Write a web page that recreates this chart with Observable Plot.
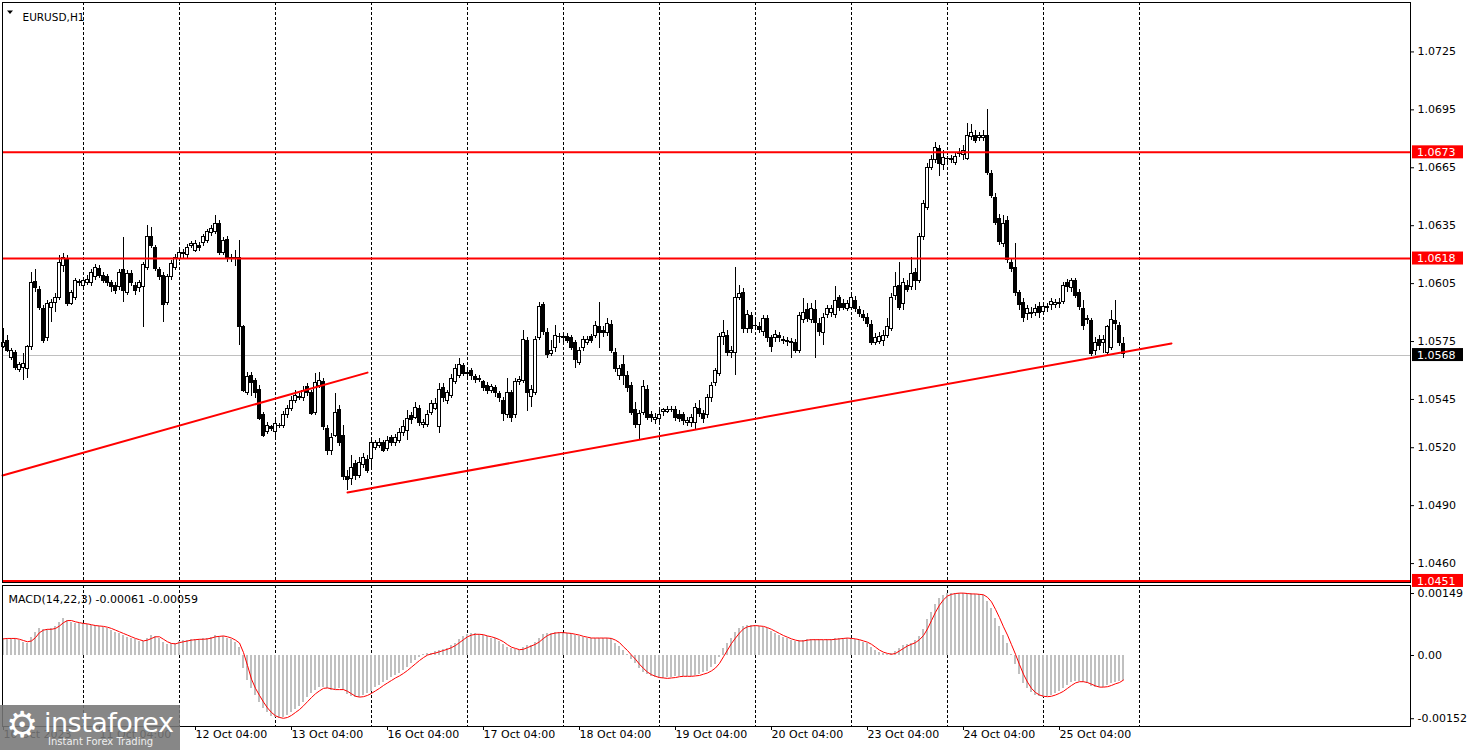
<!DOCTYPE html>
<html><head><meta charset="utf-8">
<script src="https://cdn.jsdelivr.net/npm/d3@7"></script>
<script src="https://cdn.jsdelivr.net/npm/@observablehq/plot@0.6"></script>
<style>
html,body{margin:0;padding:0;background:#fff;}
#chart{position:relative;width:1468px;height:750px;overflow:hidden;background:#fff;font-family:"DejaVu Sans",sans-serif;}
#chart svg{position:absolute;left:0;overflow:visible;}
#logo{position:absolute;left:0;top:705px;width:180px;height:45px;background:rgba(118,118,118,0.88);color:#fff;z-index:5;}
#logo .gear{position:absolute;left:6px;top:0px;font-size:36px;line-height:40px;color:#fff;}
#logo .name{position:absolute;left:44px;top:2px;font-size:27px;line-height:32px;letter-spacing:-0.5px;color:#fff;}
#logo .sub{position:absolute;left:48px;top:31px;font-size:10px;line-height:12px;color:#eee;}
</style></head>
<body><div id="chart"><div id="logo"><span class="gear">⚙</span><span class="name">instaforex</span><span class="sub">Instant Forex Trading</span></div></div>
<script>
// ---------- DATA (EURUSD, H1) ----------
const opens = [
1.05724,1.05755,1.05667,1.05693,1.05605,1.05615,1.05610,1.05724,1.06056,1.06019,
1.05921,1.05766,1.05926,1.05952,1.05973,1.06139,1.06175,1.05947,1.05978,1.06051,
1.06040,1.06051,1.06051,1.06082,1.06128,1.06092,1.06082,1.06051,1.06040,1.06030,
1.06123,1.06004,1.06102,1.06040,1.06025,1.06030,1.06133,1.06294,1.06237,1.06118,
1.06092,1.05952,1.06082,1.06133,1.06180,1.06201,1.06196,1.06247,1.06221,1.06247,
1.06258,1.06273,1.06310,1.06315,1.06361,1.06211,1.06278,1.06180,1.06185,1.06185,
1.05823,1.05486,1.05574,1.05548,1.05501,1.05367,1.05279,1.05305,1.05279,1.05315,
1.05315,1.05367,1.05403,1.05444,1.05460,1.05455,1.05512,1.05486,1.05382,1.05522,
1.05538,1.05299,1.05185,1.05263,1.05393,1.05263,1.05051,1.05040,1.05118,1.05056,
1.05108,1.05134,1.05144,1.05201,1.05211,1.05222,1.05196,1.05248,1.05227,1.05237,
1.05274,1.05289,1.05362,1.05356,1.05403,1.05320,1.05320,1.05382,1.05403,1.05305,
1.05507,1.05444,1.05470,1.05538,1.05574,1.05621,1.05589,1.05595,1.05564,1.05558,
1.05538,1.05522,1.05496,1.05507,1.05476,1.05444,1.05367,1.05481,1.05367,1.05538,
1.05548,1.05755,1.05465,1.05486,1.05766,1.05937,1.05792,1.05688,1.05714,1.05771,
1.05766,1.05771,1.05766,1.05740,1.05641,1.05714,1.05745,1.05771,1.05781,1.05823,
1.05807,1.05792,1.05838,1.05693,1.05569,1.05626,1.05574,1.05522,1.05393,1.05320,
1.05382,1.05501,1.05372,1.05346,1.05351,1.05387,1.05387,1.05393,1.05393,1.05372,
1.05367,1.05330,1.05330,1.05330,1.05403,1.05377,1.05367,1.05455,1.05533,1.05584,
1.05771,1.05781,1.05693,1.05693,1.05973,1.06004,1.05817,1.05880,1.05828,1.05823,
1.05797,1.05869,1.05766,1.05766,1.05781,1.05755,1.05750,1.05740,1.05745,1.05703,
1.05859,1.05911,1.05859,1.05911,1.05843,1.05792,1.05890,1.05900,1.05885,1.05973,
1.05947,1.05921,1.05926,1.05962,1.05911,1.05890,1.05874,1.05838,1.05745,1.05750,
1.05755,1.05781,1.05817,1.05988,1.06040,1.05947,1.06040,1.06030,1.06107,1.06066,
1.06289,1.06444,1.06651,1.06688,1.06745,1.06662,1.06693,1.06688,1.06677,1.06719,
1.06714,1.06698,1.06807,1.06817,1.06802,1.06802,1.06812,1.06620,1.06496,1.06387,
1.06253,1.06372,1.06159,1.06133,1.05999,1.05952,1.05895,1.05895,1.05900,1.05931,
1.05905,1.05926,1.05937,1.05937,1.05942,1.05957,1.06051,1.06025,1.06066,1.06004,
1.05921,1.05869,1.05854,1.05703,1.05760,1.05740,1.05693,1.05719,1.05854,1.05833,
1.05735];
const highs = [
1.05817,1.05781,1.05714,1.05703,1.05641,1.05688,1.05729,1.06107,1.06123,1.06035,
1.05937,1.05962,1.05968,1.05999,1.06196,1.06206,1.06196,1.06014,1.06076,1.06071,
1.06082,1.06092,1.06123,1.06149,1.06144,1.06107,1.06097,1.06066,1.06056,1.06123,
1.06289,1.06118,1.06118,1.06056,1.06066,1.06159,1.06351,1.06341,1.06247,1.06133,
1.06107,1.06097,1.06170,1.06201,1.06232,1.06227,1.06253,1.06268,1.06273,1.06263,
1.06304,1.06330,1.06351,1.06403,1.06377,1.06289,1.06294,1.06201,1.06221,1.06273,
1.05833,1.05589,1.05589,1.05558,1.05522,1.05382,1.05330,1.05315,1.05341,1.05325,
1.05387,1.05419,1.05465,1.05496,1.05481,1.05517,1.05533,1.05496,1.05584,1.05589,
1.05558,1.05315,1.05274,1.05481,1.05419,1.05315,1.05082,1.05160,1.05134,1.05149,
1.05170,1.05160,1.05237,1.05237,1.05248,1.05237,1.05258,1.05263,1.05268,1.05299,
1.05341,1.05393,1.05382,1.05434,1.05419,1.05346,1.05393,1.05444,1.05455,1.05533,
1.05533,1.05496,1.05579,1.05631,1.05662,1.05636,1.05610,1.05610,1.05579,1.05574,
1.05548,1.05538,1.05527,1.05522,1.05491,1.05460,1.05558,1.05496,1.05558,1.05569,
1.05807,1.05771,1.05522,1.05776,1.05952,1.05952,1.05817,1.05755,1.05833,1.05792,
1.05786,1.05792,1.05781,1.05755,1.05719,1.05776,1.05776,1.05786,1.05854,1.05952,
1.05828,1.05869,1.05859,1.05714,1.05626,1.05678,1.05595,1.05538,1.05434,1.05393,
1.05548,1.05522,1.05387,1.05377,1.05393,1.05403,1.05413,1.05413,1.05413,1.05393,
1.05382,1.05356,1.05372,1.05429,1.05444,1.05393,1.05476,1.05538,1.05610,1.05792,
1.05859,1.05807,1.05724,1.06133,1.06040,1.06025,1.05911,1.05900,1.05859,1.05848,
1.05885,1.05885,1.05781,1.05807,1.05797,1.05776,1.05771,1.05766,1.05760,1.05900,
1.05973,1.05947,1.05947,1.05962,1.05869,1.05895,1.05937,1.05937,1.06035,1.05988,
1.05968,1.05962,1.05994,1.05983,1.05931,1.05911,1.05895,1.05859,1.05792,1.05797,
1.05807,1.05869,1.05999,1.06107,1.06159,1.06076,1.06066,1.06185,1.06128,1.06310,
1.06480,1.06672,1.06714,1.06781,1.06765,1.06739,1.06709,1.06714,1.06724,1.06750,
1.06765,1.06879,1.06874,1.06843,1.06833,1.06843,1.06952,1.06636,1.06517,1.06408,
1.06403,1.06398,1.06175,1.06258,1.06014,1.05973,1.05937,1.05926,1.05942,1.05952,
1.05947,1.05947,1.05973,1.05968,1.05973,1.06056,1.06071,1.06076,1.06076,1.06019,
1.05962,1.05885,1.05869,1.05771,1.05781,1.05781,1.05833,1.05911,1.05962,1.05848,
1.05771];
const lows = [
1.05714,1.05693,1.05652,1.05600,1.05589,1.05548,1.05558,1.05703,1.06004,1.05911,
1.05740,1.05750,1.05848,1.05900,1.05962,1.06107,1.05931,1.05937,1.05962,1.06035,
1.06030,1.06040,1.06035,1.06066,1.06076,1.06051,1.06035,1.06004,1.05994,1.06014,
1.05952,1.05988,1.06035,1.05988,1.06004,1.05823,1.06118,1.06232,1.06113,1.06066,
1.05848,1.05937,1.06066,1.06118,1.06164,1.06180,1.06180,1.06232,1.06211,1.06216,
1.06242,1.06258,1.06294,1.06304,1.06196,1.06196,1.06159,1.06159,1.06139,1.05729,
1.05486,1.05470,1.05465,1.05455,1.05341,1.05253,1.05268,1.05284,1.05253,1.05299,
1.05299,1.05351,1.05387,1.05429,1.05444,1.05439,1.05465,1.05367,1.05367,1.05507,
1.05289,1.05160,1.05160,1.05253,1.05206,1.05030,1.04978,1.05004,1.05030,1.05040,
1.05092,1.05066,1.05082,1.05185,1.05196,1.05175,1.05180,1.05206,1.05206,1.05222,
1.05258,1.05237,1.05320,1.05346,1.05310,1.05299,1.05305,1.05367,1.05393,1.05274,
1.05434,1.05424,1.05455,1.05527,1.05558,1.05569,1.05564,1.05548,1.05533,1.05538,
1.05491,1.05476,1.05481,1.05460,1.05434,1.05336,1.05351,1.05330,1.05351,1.05522,
1.05533,1.05387,1.05408,1.05470,1.05755,1.05781,1.05662,1.05672,1.05693,1.05740,
1.05735,1.05740,1.05703,1.05610,1.05626,1.05698,1.05729,1.05740,1.05766,1.05714,
1.05771,1.05776,1.05688,1.05589,1.05548,1.05522,1.05486,1.05367,1.05299,1.05242,
1.05367,1.05341,1.05330,1.05320,1.05325,1.05362,1.05377,1.05382,1.05336,1.05330,
1.05315,1.05310,1.05305,1.05289,1.05356,1.05325,1.05351,1.05434,1.05517,1.05569,
1.05729,1.05672,1.05662,1.05574,1.05962,1.05792,1.05792,1.05792,1.05807,1.05792,
1.05776,1.05745,1.05693,1.05745,1.05745,1.05735,1.05724,1.05662,1.05688,1.05688,
1.05843,1.05848,1.05843,1.05662,1.05776,1.05729,1.05869,1.05874,1.05869,1.05905,
1.05911,1.05905,1.05911,1.05900,1.05874,1.05854,1.05823,1.05729,1.05729,1.05735,
1.05724,1.05766,1.05802,1.05962,1.05911,1.05911,1.06004,1.06014,1.06014,1.06051,
1.06273,1.06429,1.06636,1.06672,1.06605,1.06636,1.06672,1.06672,1.06662,1.06703,
1.06688,1.06688,1.06791,1.06776,1.06786,1.06786,1.06610,1.06491,1.06351,1.06247,
1.06237,1.06154,1.06107,1.05983,1.05911,1.05848,1.05859,1.05869,1.05880,1.05869,
1.05885,1.05900,1.05911,1.05921,1.05921,1.05942,1.06004,1.06004,1.05973,1.05911,
1.05807,1.05838,1.05672,1.05678,1.05703,1.05688,1.05678,1.05703,1.05807,1.05724,
1.05662];
const closes = [
1.05740,1.05703,1.05703,1.05615,1.05626,1.05636,1.05724,1.06051,1.06025,1.05926,
1.05755,1.05947,1.05952,1.05978,1.06159,1.06185,1.05947,1.05999,1.06061,1.06056,
1.06066,1.06071,1.06107,1.06133,1.06092,1.06066,1.06051,1.06030,1.06014,1.06107,
1.06014,1.06102,1.06051,1.06014,1.06051,1.06144,1.06289,1.06247,1.06128,1.06082,
1.05937,1.06082,1.06154,1.06185,1.06211,1.06206,1.06237,1.06253,1.06253,1.06232,
1.06289,1.06315,1.06335,1.06361,1.06211,1.06273,1.06185,1.06185,1.06180,1.05823,
1.05496,1.05564,1.05533,1.05481,1.05351,1.05263,1.05315,1.05299,1.05325,1.05310,
1.05367,1.05403,1.05444,1.05470,1.05465,1.05496,1.05486,1.05377,1.05533,1.05548,
1.05305,1.05185,1.05253,1.05382,1.05222,1.05046,1.05035,1.05097,1.05056,1.05123,
1.05149,1.05082,1.05222,1.05222,1.05227,1.05185,1.05237,1.05222,1.05253,1.05274,
1.05305,1.05351,1.05346,1.05408,1.05330,1.05330,1.05372,1.05424,1.05429,1.05501,
1.05455,1.05481,1.05558,1.05610,1.05631,1.05584,1.05584,1.05569,1.05553,1.05553,
1.05507,1.05496,1.05512,1.05481,1.05455,1.05377,1.05486,1.05356,1.05543,1.05553,
1.05760,1.05481,1.05501,1.05760,1.05931,1.05797,1.05678,1.05703,1.05781,1.05776,
1.05771,1.05755,1.05719,1.05652,1.05703,1.05760,1.05760,1.05755,1.05828,1.05792,
1.05792,1.05843,1.05703,1.05610,1.05610,1.05574,1.05507,1.05382,1.05320,1.05377,
1.05512,1.05356,1.05356,1.05356,1.05372,1.05393,1.05393,1.05398,1.05356,1.05351,
1.05341,1.05341,1.05356,1.05408,1.05377,1.05351,1.05455,1.05522,1.05595,1.05771,
1.05792,1.05693,1.05703,1.05973,1.05994,1.05817,1.05890,1.05817,1.05833,1.05812,
1.05869,1.05766,1.05724,1.05786,1.05766,1.05760,1.05755,1.05750,1.05703,1.05880,
1.05900,1.05869,1.05921,1.05848,1.05797,1.05874,1.05921,1.05916,1.05962,1.05926,
1.05926,1.05942,1.05973,1.05921,1.05895,1.05874,1.05843,1.05740,1.05766,1.05771,
1.05781,1.05823,1.05978,1.06030,1.05926,1.06051,1.06019,1.06102,1.06066,1.06289,
1.06460,1.06651,1.06688,1.06750,1.06672,1.06703,1.06698,1.06698,1.06708,1.06729,
1.06739,1.06817,1.06828,1.06791,1.06812,1.06817,1.06625,1.06506,1.06366,1.06263,
1.06361,1.06170,1.06128,1.05999,1.05937,1.05874,1.05916,1.05900,1.05921,1.05900,
1.05931,1.05931,1.05957,1.05952,1.05952,1.06040,1.06030,1.06066,1.05988,1.05931,
1.05833,1.05859,1.05688,1.05745,1.05729,1.05760,1.05823,1.05859,1.05843,1.05745,
1.05683];
// MACD(14,22,3), values in units of 0.00001
const macdMainE5 = [
40,42,42,40,36,32,30,44,56,64, 62,62,64,70,80,88,84,80,78,78,
76,74,72,71,70,68,66,60,56,54, 48,44,42,38,34,34,42,48,46,40,
32,26,28,30,34,36,36,38,39,39, 40,42,44,48,46,46,42,38,32,20,
-32,-60,-80,-96,-112,-128,-138,-146,-150,-152, -150,-144,-138,-130,-122,-112,-100,-92,-84,-78,
-76,-80,-84,-82,-80,-84,-94,-98,-102,-100, -96,-92,-86,-78,-72,-66,-60,-54,-48,-44,
-36,-28,-20,-12,-4,2,4,6,9,12, 15,18,24,30,38,46,50,52,52,50,
47,45,42,40,33,26,20,16,14,12, 20,24,25,32,42,50,53,54,55,55,
54,54,52,48,46,43,42,42,42,42, 42,41,40,30,22,12,2,-10,-20,-32,
-42,-46,-50,-53,-55,-55,-54,-53,-51,-50, -50,-50,-50,-48,-46,-42,-38,-30,-22,-6,
18,28,42,55,66,70,72,72,71,70, 68,64,58,52,48,44,40,37,34,35,
37,38,38,38,38,37,38,38,40,42, 42,41,40,38,36,32,28,20,12,8,
4,2,4,10,18,24,27,30,36,45, 62,86,104,122,136,144,148,150,150,150,
149,148,148,147,146,144,130,112,90,70, 48,28,2,-22,-45,-68,-80,-90,-96,-98,
-100,-98,-96,-92,-86,-80,-72,-65,-62,-62, -65,-68,-74,-76,-77,-76,-72,-68,-64,-62,
-61];
const macdSignalE5 = [
40,41,41,41,39,36,33,35,43,55, 61,63,63,65,71,79,84,84,81,79,
77,76,74,72,71,70,68,65,61,57, 53,49,45,41,38,35,37,41,45,45,
39,33,29,28,31,33,35,37,38,39, 39,40,42,45,46,47,45,42,37,30,
7,-24,-57,-79,-96,-112,-126,-137,-145,-149, -151,-149,-144,-137,-130,-121,-111,-101,-92,-85,
-79,-78,-80,-82,-82,-82,-86,-92,-98,-100, -99,-96,-91,-85,-79,-72,-66,-60,-54,-49,
-43,-36,-28,-20,-12,-5,1,4,6,9, 12,15,19,24,31,38,45,49,51,51,
50,47,45,42,38,33,26,20,17,14, 15,19,23,27,33,41,48,52,54,55,
55,54,53,51,49,46,44,42,42,42, 42,42,41,37,31,21,12,1,-9,-21,
-31,-40,-46,-50,-53,-54,-55,-54,-53,-51, -50,-50,-50,-49,-48,-45,-42,-37,-30,-19,
-3,13,29,42,54,64,69,71,72,71, 70,67,63,58,53,48,44,40,37,35,
35,37,38,38,38,38,38,38,39,40, 41,42,41,40,38,35,32,27,20,13,
8,5,3,5,11,17,23,27,31,38, 48,64,84,104,121,134,143,147,149,150,
150,149,148,148,147,146,140,129,111,91, 69,49,26,3,-22,-45,-64,-79,-89,-95,
-98,-99,-98,-95,-91,-86,-79,-72,-66,-63, -63,-65,-69,-73,-76,-76,-75,-72,-68,-65,
-59];
const priceTicks = [1.0725, 1.0695, 1.0665, 1.0635, 1.0605, 1.0575, 1.0545, 1.0520, 1.0490, 1.0460];
const levelPrices = [1.0673, 1.0618, 1.0451];
const lastPrice = 1.0568;
const macdTicks = [0.00149, 0, -0.00152];
const macdTickLabels = ["0.00149", "0.00", "-0.00152"];
const timeTickBars = [0, 24, 48, 72, 96, 120, 144, 168, 192, 216, 240, 264];
const timeTickLabels = ["10 Oct 2023", "11 Oct 04:00", "12 Oct 04:00", "13 Oct 04:00", "16 Oct 04:00", "17 Oct 04:00",
  "18 Oct 04:00", "19 Oct 04:00", "20 Oct 04:00", "23 Oct 04:00", "24 Oct 04:00", "25 Oct 04:00"];
const gridBars = [20, 44, 68, 92, 116, 140, 164, 188, 212, 236, 260, 284];
const trend1Bars = [-0.25, 91], trend1Prices = [1.05056, 1.05589];
const trend2Bars = [86, 292], trend2Prices = [1.04968, 1.05740];
const symbolTitle = "EURUSD,H1";
const macdTitle = "MACD(14,22,3) -0.00061 -0.00059";

// ---------- BUILD ----------
const candles = opens.map((o, i) => ({i, o, h: highs[i], l: lows[i], c: closes[i]}));
const bulls = candles.filter(d => d.c >= d.o);
const bears = candles.filter(d => d.c < d.o);
const macd = macdMainE5.map((m, i) => ({i, m: m * 1e-5, s: macdSignalE5[i] * 1e-5}));
const trend1 = trend1Bars.map((b, k) => ({i: b, p: trend1Prices[k]}));
const trend2 = trend2Bars.map((b, k) => ({i: b, p: trend2Prices[k]}));
const timeTicks = timeTickBars.map((b, k) => ({i: b, label: timeTickLabels[k]}));
const W = 1468, xDomain = [-0.25, 351.75];
const FONT = "DejaVu Sans";
const chart = document.getElementById("chart");

const main = Plot.plot({
  width: W, height: 584,
  marginLeft: 2, marginRight: 58, marginTop: 2, marginBottom: 2,
  style: {fontFamily: FONT, fontSize: "11px", color: "#000", background: "transparent", overflow: "visible"},
  x: {domain: xDomain, axis: null},
  y: {domain: [1.04502, 1.07506], axis: "right", ticks: priceTicks, tickFormat: d => d.toFixed(4), tickSize: 3, tickPadding: 4, label: null},
  marks: [
    Plot.ruleX(gridBars, {x: d => d, stroke: "#000", strokeDasharray: "3,2", shapeRendering: "crispEdges"}),
    Plot.ruleY([lastPrice], {stroke: "#c0c0c0", shapeRendering: "crispEdges"}),
    Plot.ruleX(candles, {x: "i", y1: "l", y2: "h", stroke: "#000", shapeRendering: "crispEdges"}),
    Plot.rect(bulls, {x1: d => d.i - 0.28, x2: d => d.i + 0.28, y1: "o", y2: "c", fill: "#fff", stroke: "#000", shapeRendering: "crispEdges"}),
    Plot.rect(bears, {x1: d => d.i - 0.28, x2: d => d.i + 0.28, y1: "c", y2: "o", fill: "#000", stroke: "#000", shapeRendering: "crispEdges"}),
    Plot.ruleY(levelPrices, {stroke: "#ff0000", strokeWidth: 2}),
    Plot.line(trend1, {x: "i", y: "p", stroke: "#ff0000", strokeWidth: 2}),
    Plot.line(trend2, {x: "i", y: "p", stroke: "#ff0000", strokeWidth: 2}),
    Plot.frame({stroke: "#000", shapeRendering: "crispEdges"}),
    Plot.text([symbolTitle], {frameAnchor: "top-left", dx: 20, dy: 11, textAnchor: "start", fontSize: 10.5})
  ]
});
main.style.top = "0px"; main.style.zIndex = 2;
chart.appendChild(main);

// price label boxes on the right axis, placed with the plot's own y scale
{
  const ys = main.scale("y");
  const yOf = ys.apply ? v => ys.apply(v) : d3.scaleLinear(ys.domain, ys.range);
  const g = d3.select(main).append("g").attr("font-family", FONT).attr("font-size", 11).attr("text-anchor", "start");
  const boxes = levelPrices.map(v => ({v, fill: "#ff0000"})).concat([{v: lastPrice, fill: "#000"}]);
  for (const b of boxes) {
    const y = yOf(b.v);
    g.append("rect").attr("x", 1412).attr("y", y - 6.5).attr("width", 51).attr("height", 13).attr("fill", b.fill);
    g.append("text").attr("x", 1417).attr("y", y + 0.5).attr("dy", "0.35em").attr("text-anchor", "start").attr("fill", "#fff").text(b.v.toFixed(4));
  }
  g.append("path").attr("d", "M7,10.5L13,10.5L10,14Z").attr("fill", "#000");
}

const sub = Plot.plot({
  width: W, height: 166,
  marginLeft: 2, marginRight: 58, marginTop: 1, marginBottom: 24,
  style: {fontFamily: FONT, fontSize: "11px", color: "#000", background: "transparent", overflow: "visible"},
  x: {domain: xDomain, axis: "bottom", ticks: timeTickBars, tickFormat: () => "", tickSize: 4, label: null},
  y: {domain: [-0.001707, 0.001683], axis: "right", ticks: macdTicks, tickFormat: d => macdTickLabels[macdTicks.indexOf(d)], tickSize: 3, tickPadding: 4, label: null},
  marks: [
    Plot.ruleX(gridBars, {x: d => d, stroke: "#000", strokeDasharray: "3,2", shapeRendering: "crispEdges"}),
    Plot.rect(macd, {x1: d => d.i - 0.36, x2: d => d.i + 0.36, y1: () => 0, y2: "m", fill: "#c0c0c0", shapeRendering: "crispEdges"}),
    Plot.line(macd, {x: "i", y: "s", stroke: "#ff0000", strokeWidth: 1}),
    Plot.frame({stroke: "#000", shapeRendering: "crispEdges"}),
    Plot.text([macdTitle], {frameAnchor: "top-left", dx: 6, dy: 10, textAnchor: "start", fontSize: 11}),
    Plot.text(timeTicks, {x: "i", text: "label", frameAnchor: "bottom", dy: 11, dx: 0, textAnchor: "start", fontSize: 11})
  ]
});
sub.style.top = "584px"; sub.style.zIndex = 1;
chart.appendChild(sub);
</script>
</body></html>
